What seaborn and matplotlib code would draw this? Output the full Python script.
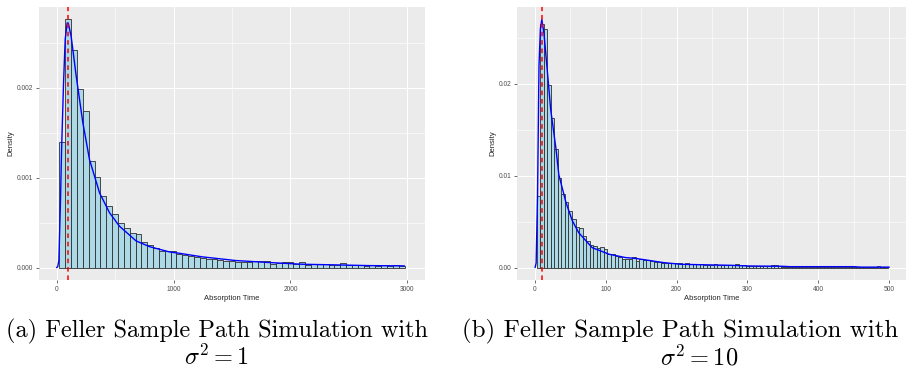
import numpy as np
import matplotlib
matplotlib.use('Agg')
import matplotlib.pyplot as plt
from matplotlib.ticker import MultipleLocator, FormatStrFormatter
import seaborn as sns

# panel (a): sigma^2 = 1, bins of width 50 centred on 50, 100, ..., 2950
bins_a = list(range(50, 3000, 50))
dens_a = [0.00140, 0.00276, 0.00242, 0.00199, 0.00174, 0.00118, 0.00101, 0.00080, 0.00069, 0.00060,
          0.00050, 0.00044, 0.00039, 0.00037, 0.00029, 0.00025, 0.00022, 0.000185, 0.00019,
          0.000185, 0.00015, 0.00014, 0.00013, 0.00012, 0.00011, 0.00010, 0.000093, 0.000085, 0.000078,
          0.000072, 0.000067, 0.000059, 0.000063, 0.000070, 0.000074, 0.000070, 0.000037, 0.000048, 0.000067,
          0.000067, 0.000044, 0.000067, 0.000030, 0.000040, 0.000040, 0.000037, 0.000026, 0.000026, 0.000056,
          0.000030, 0.000026, 0.000030, 0.000022, 0.000033, 0.000022, 0.000026, 0.000022, 0.000026, 0.000019]
curve_a_x = [0, 10, 20, 34, 43, 60, 74, 91, 100, 125, 168, 225, 282, 368, 453, 538, 681, 795,
             966, 1051, 1248, 1535, 1821, 2105, 2390, 2675, 2974]
curve_a_y = [0.0, 0.00001, 0.00008, 0.00076, 0.00131, 0.00206, 0.00254, 0.00272, 0.00272, 0.00257,
             0.00213, 0.00161, 0.00120, 0.00083, 0.00061, 0.00046, 0.000296, 0.000233,
             0.000174, 0.000159, 0.000119, 0.000078, 0.000056, 0.000037, 0.000030, 0.000022, 0.000019]
mode_a = 100

# panel (b): sigma^2 = 10, bins of width 5 centred on 5, 10, ..., 495
bins_b = list(range(5, 500, 5))
dens_b = [0.0078, 0.0265, 0.0260, 0.0199, 0.0163, 0.0129, 0.0098, 0.0080, 0.0071, 0.0062,
          0.0053, 0.0044, 0.0043, 0.0034, 0.0029, 0.0025, 0.0024, 0.0021, 0.0022, 0.0020,
          0.0015, 0.0015, 0.0013, 0.0011, 0.0009, 0.0009,
          0.00098, 0.0011, 0.00072, 0.00098, 0.0008, 0.00083, 0.00069, 0.00065, 0.00065, 0.00054,
          0.00054, 0.0005, 0.0005, 0.00047, 0.00054, 0.00043, 0.00054, 0.00040, 0.00043, 0.00043,
          0.00036, 0.00033, 0.00033, 0.00033, 0.00043, 0.00030, 0.00025, 0.00025, 0.00025, 0.00025,
          0.00043, 0.00025, 0.00025, 0.00018, 0.00015, 0.00015, 0.00015, 0.00015, 0.00015, 0.00015,
          0.00033, 0.00025, 0.00015, 0.00011,
          0.00007, 0.00004, 0.00011, 0.00007, 0.00004, 0.00007, 0.00011, 0.00004, 0.00007, 0.00004,
          0.00007, 0.00007, 0.00004, 0.00011, 0.00004, 0.00007, 0.00004, 0.00004, 0.00007, 0.00004,
          0.00004, 0.00007, 0.00004, 0.00004, 0.00007, 0.00004,
          0.00020, 0.00004, 0.00004]
curve_b_x = [0.5, 2, 4, 6, 8, 10, 13, 18, 22.5, 30, 34, 44, 53, 62, 81, 105, 128, 142,
             182, 206, 229, 276, 300, 323, 350, 360, 450, 460, 500]
curve_b_y = [0.0, 0.0005, 0.008, 0.0219, 0.0260, 0.0270, 0.0255, 0.0212, 0.0172, 0.0129, 0.0101,
             0.0071, 0.0051, 0.0038, 0.00217, 0.00145, 0.00109, 0.0010,
             0.00054, 0.00036, 0.00032, 0.00025, 0.00018, 0.00016, 0.00014, 0.00010, 0.00010, 0.00005, 0.00005]
mode_b = 10

sns.set_theme(style='darkgrid', rc={
    'axes.facecolor': '#EBEBEB',
    'grid.color': 'white',
    'axes.edgecolor': '#EBEBEB',
})
plt.rcParams['font.family'] = ['Liberation Sans', 'DejaVu Sans']
plt.rcParams['mathtext.fontset'] = 'cm'

fig = plt.figure(figsize=(9.06, 3.72), dpi=100)
W, H = 906, 372


def panel(px, centers, dens, width, cx, cy, mode, xlim, ylim, xstep, ystep, yfmt):
    x0, y0, x1, y1 = px
    ax = fig.add_axes([x0 / W, 1 - y1 / H, (x1 - x0) / W, (y1 - y0) / H])
    sns.histplot(x=centers, weights=dens, binwidth=width,
                 binrange=(centers[0] - width / 2, centers[-1] + width / 2), stat='count',
                 color='#ADD8E6', edgecolor='#2E2E2E', linewidth=0.6, alpha=1, ax=ax)
    sns.lineplot(x=cx, y=cy, color='blue', linewidth=1.0, ax=ax)
    ax.axvline(mode, color='red', linestyle=(0, (3, 2.5)), linewidth=1.1)
    ax.set_xlim(*xlim)
    ax.set_ylim(*ylim)
    ax.xaxis.set_major_locator(MultipleLocator(xstep))
    ax.xaxis.set_minor_locator(MultipleLocator(xstep / 2))
    ax.yaxis.set_major_locator(MultipleLocator(ystep))
    ax.yaxis.set_minor_locator(MultipleLocator(ystep / 2))
    ax.yaxis.set_major_formatter(FormatStrFormatter(yfmt))
    ax.grid(which='major', color='white', linewidth=0.75)
    ax.grid(which='minor', color='white', linewidth=0.4)
    ax.set_axisbelow(True)
    for s in ax.spines.values():
        s.set_visible(False)
    ax.tick_params(which='major', length=2.5, width=0.5, color='#333333',
                   labelcolor='#4D4D4D', labelsize=4.8, pad=1.5,
                   bottom=True, left=True)
    ax.tick_params(which='minor', length=0)
    ax.set_xlabel('Absorption Time', fontsize=5.5, labelpad=2)
    ax.set_ylabel('Density', fontsize=5.5, labelpad=2)
    return ax


panel((39, 7, 425, 280), bins_a, dens_a, 50, curve_a_x, curve_a_y, mode_a,
      (-150, 3150), (-0.000138, 0.002898), 1000, 0.001, '%.3f')
panel((517, 7, 907, 280), bins_b, dens_b, 5, curve_b_x, curve_b_y, mode_b,
      (-25, 525), (-0.00135, 0.02835), 100, 0.01, '%.2f')

cap = dict(va='baseline', color='black')
fig.text(6 / W, 1 - 337 / H, '(a) Feller Sample Path Simulation with', family='cmr10',
         ha='left', fontsize=17.5, **cap)
fig.text(217 / W, 1 - 365 / H, r'$\sigma^2 = 1$', ha='center', fontsize=17.5, **cap)
fig.text(462 / W, 1 - 337 / H, '(b) Feller Sample Path Simulation with', family='cmr10',
         ha='left', fontsize=18, **cap)
fig.text(699 / W, 1 - 365 / H, r'$\sigma^2 = 10$', ha='center', fontsize=17.5, **cap)

fig.savefig('out.png', dpi=100)
